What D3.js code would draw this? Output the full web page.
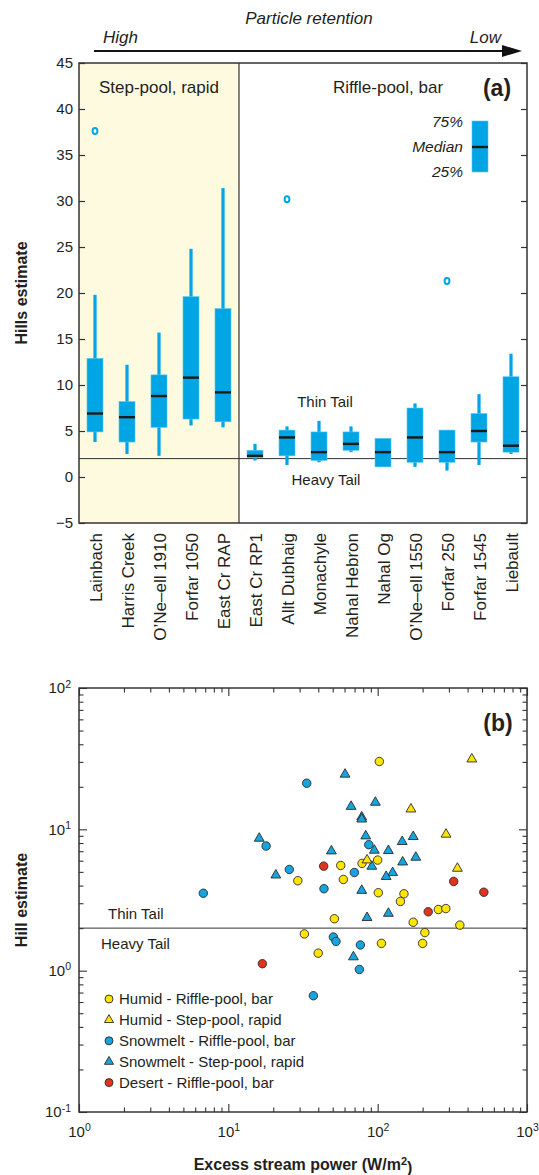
<!DOCTYPE html>
<html>
<head>
<meta charset="utf-8">
<script src="https://cdn.jsdelivr.net/npm/d3@7"></script>
<style>
  body { margin: 0; background: #fff; }
  svg { display: block; font-family: "Liberation Sans", Arial, sans-serif; }
</style>
</head>
<body>
<svg id="chart" width="539" height="1175"></svg>
<script>
// panel (a): Hill estimates per reach (box plot)
const sites = ["Lainbach", "Harris Creek", "O\u2019Ne\u2013ell 1910", "Forfar 1050", "East Cr RAP",
  "East Cr RP1", "Allt Dubhaig", "Monachyle", "Nahal Hebron", "Nahal Og",
  "O\u2019Ne\u2013ell 1550", "Forfar 250", "Forfar 1545", "Liebault"];
const whiskerLow  = [3.8, 2.5, 2.3, 5.6, 5.4, 1.8, 1.3, 1.6, 2.7, null, 1.1, 0.7, 1.3, 2.5];
const q1          = [4.9, 3.8, 5.4, 6.3, 6.0, 2.1, 2.3, 1.8, 2.9, 1.1, 1.6, 1.6, 3.8, 2.7];
const medians     = [6.9, 6.5, 8.8, 10.8, 9.2, 2.3, 4.3, 2.7, 3.6, 2.7, 4.3, 2.7, 5.0, 3.4];
const q3          = [12.9, 8.2, 11.1, 19.6, 18.3, 2.9, 5.1, 4.9, 4.9, 4.2, 7.5, 5.1, 6.9, 10.9];
const whiskerHigh = [19.8, 12.2, 15.7, 24.8, 31.4, 3.6, 5.5, 6.1, 5.5, null, 8.0, 5.1, 9.0, 13.4];
const outlierSites  = ["Lainbach", "Allt Dubhaig", "Forfar 250"];
const outlierValues = [37.6, 30.2, 21.3];
const yTicksA = [-5, 0, 5, 10, 15, 20, 25, 30, 35, 40, 45];

// panel (b): Hill estimate vs excess stream power
const humidRiffleX = [102.6, 56.6, 78.6, 100, 58.9, 29.2, 101, 150, 142, 255, 286, 51.3, 173, 355, 32.3, 207, 106, 200, 40];
const humidRiffleY = [30.2, 5.55, 5.74, 6.06, 4.42, 4.33, 3.56, 3.50, 3.09, 2.71, 2.75, 2.33, 2.2, 2.1, 1.82, 1.86, 1.56, 1.56, 1.33];
const humidStepX = [427, 167, 287, 342, 84.9];
const humidStepY = [31.4, 13.9, 9.22, 5.29, 6.06];
const snowRiffleX = [33.5, 17.9, 25.6, 6.8, 43.7, 69.8, 87.2, 50.5, 52.6, 76.6, 75.4, 37.1];
const snowRiffleY = [21.2, 7.62, 5.2, 3.53, 3.8, 4.95, 7.79, 1.73, 1.61, 1.52, 1.02, 0.665];
const snowStepX = [60.5, 66.4, 96.5, 78.2, 78.2, 16.1, 83.2, 146, 173, 49, 95, 118, 180, 147, 91.4, 20.8, 126, 114, 78.2, 84.9, 118, 68.8];
const snowStepY = [24.5, 14.5, 15.5, 12.2, 11.8, 8.63, 8.96, 8.18, 8.87, 7.02, 7.1, 7.06, 6.33, 5.86, 5.47, 4.74, 4.93, 4.63, 3.69, 2.37, 2.54, 1.25];
const desertX = [43.5, 323, 514, 218, 16.9];
const desertY = [5.49, 4.28, 3.59, 2.61, 1.12];
const xTicksB = [1, 10, 100, 1000];
const yTicksB = [0.1, 1, 10, 100];

const BLUE = "#00a5e6";
const TXT = "#231f20";
const FRAME = "#333";

const svg = d3.select("#chart");

// ---------- header arrow ----------
svg.append("text").attr("x", 309).attr("y", 24).attr("text-anchor", "middle")
  .attr("font-size", 17).attr("font-style", "italic").attr("fill", TXT).text("Particle retention");
svg.append("text").attr("x", 103).attr("y", 43)
  .attr("font-size", 17).attr("font-style", "italic").attr("fill", TXT).text("High");
svg.append("text").attr("x", 501).attr("y", 43).attr("text-anchor", "end")
  .attr("font-size", 17).attr("font-style", "italic").attr("fill", TXT).text("Low");
svg.append("line").attr("x1", 94).attr("x2", 506).attr("y1", 51).attr("y2", 51)
  .attr("stroke", "#111").attr("stroke-width", 2);
svg.append("path").attr("d", "M502,45 L522,51 L502,57 Z").attr("fill", "#111");

// ---------- panel (a) ----------
const xA = d3.scaleBand().domain(sites).range([79, 527]);
const yA = d3.scaleLinear().domain([-5, 45]).range([523, 63]);
const boxW = 16;

svg.append("rect")
  .attr("x", xA.range()[0]).attr("y", yA(45))
  .attr("width", xA("East Cr RP1") - xA.range()[0]).attr("height", yA(-5) - yA(45))
  .attr("fill", "#fdfae0");

svg.append("line").attr("x1", xA("East Cr RP1")).attr("x2", xA("East Cr RP1"))
  .attr("y1", yA(45)).attr("y2", yA(-5)).attr("stroke", FRAME).attr("stroke-width", 1.2);

svg.append("line").attr("x1", 79).attr("x2", 527).attr("y1", yA(2)).attr("y2", yA(2))
  .attr("stroke", FRAME).attr("stroke-width", 1);

const boxes = svg.append("g").selectAll("g").data(sites).join("g")
  .attr("transform", d => `translate(${xA(d) + xA.bandwidth() / 2},0)`);

boxes.filter((d, i) => whiskerLow[i] != null).append("line")
  .attr("y1", d => yA(whiskerLow[sites.indexOf(d)]))
  .attr("y2", d => yA(whiskerHigh[sites.indexOf(d)]))
  .attr("stroke", BLUE).attr("stroke-width", 3.2);

boxes.append("rect")
  .attr("x", -boxW / 2).attr("width", boxW)
  .attr("y", (d, i) => yA(q3[i]))
  .attr("height", (d, i) => yA(q1[i]) - yA(q3[i]))
  .attr("fill", BLUE).attr("stroke", "#5cc6ee").attr("stroke-width", 0.6);

boxes.append("line")
  .attr("x1", -boxW / 2).attr("x2", boxW / 2)
  .attr("y1", (d, i) => yA(medians[i])).attr("y2", (d, i) => yA(medians[i]))
  .attr("stroke", "#1a1a1a").attr("stroke-width", 2.4);

svg.append("g").selectAll("ellipse").data(outlierSites).join("ellipse")
  .attr("cx", d => xA(d) + xA.bandwidth() / 2)
  .attr("cy", (d, i) => yA(outlierValues[i]))
  .attr("rx", 2.4).attr("ry", 3)
  .attr("fill", "#fff").attr("stroke", BLUE).attr("stroke-width", 2);

// legend box (a)
svg.append("rect").attr("x", 472).attr("y", 121).attr("width", 16).attr("height", 51)
  .attr("fill", BLUE).attr("stroke", "#5cc6ee").attr("stroke-width", 0.6);
svg.append("line").attr("x1", 472).attr("x2", 488).attr("y1", 147).attr("y2", 147)
  .attr("stroke", "#1a1a1a").attr("stroke-width", 2.4);
[["75%", 127], ["Median", 152], ["25%", 177]].forEach(([t, y]) => {
  svg.append("text").attr("x", 463).attr("y", y).attr("text-anchor", "end")
    .attr("font-size", 15.5).attr("font-style", "italic").attr("fill", TXT).text(t);
});

// axes (a)
const axLeftA = svg.append("g").attr("transform", "translate(79,0)")
  .call(d3.axisLeft(yA).tickValues(yTicksA).tickSize(-6).tickPadding(6));
axLeftA.select(".domain").remove();
axLeftA.selectAll("text").attr("font-size", 15).attr("fill", TXT).attr("font-family", null);
axLeftA.selectAll("line").attr("stroke", FRAME).attr("stroke-width", 1.2);

const axRightA = svg.append("g").attr("transform", "translate(527,0)")
  .call(d3.axisRight(yA).tickValues(yTicksA).tickSize(-6).tickFormat(""));
axRightA.select(".domain").remove();
axRightA.selectAll("line").attr("stroke", FRAME).attr("stroke-width", 1.2);

svg.append("rect").attr("x", 79).attr("y", yA(45)).attr("width", 448).attr("height", yA(-5) - yA(45))
  .attr("fill", "none").attr("stroke", FRAME).attr("stroke-width", 1.5);

svg.append("g").selectAll("text").data(sites).join("text")
  .attr("transform", d => `translate(${xA(d) + xA.bandwidth() / 2 + 1},533) rotate(-90)`)
  .attr("text-anchor", "end").attr("dy", "0.35em")
  .attr("font-size", 17).attr("fill", TXT).text(d => d);

svg.append("text").attr("x", 159).attr("y", 93).attr("text-anchor", "middle")
  .attr("font-size", 17).attr("fill", TXT).text("Step-pool, rapid");
svg.append("text").attr("x", 388).attr("y", 93).attr("text-anchor", "middle")
  .attr("font-size", 17).attr("fill", TXT).text("Riffle-pool, bar");
svg.append("text").attr("x", 497).attr("y", 96).attr("text-anchor", "middle")
  .attr("font-size", 23).attr("font-weight", "bold").attr("fill", TXT).text("(a)");
svg.append("text").attr("x", 325).attr("y", 407).attr("text-anchor", "middle")
  .attr("font-size", 15).attr("fill", TXT).text("Thin Tail");
svg.append("text").attr("x", 326).attr("y", 485).attr("text-anchor", "middle")
  .attr("font-size", 15).attr("fill", TXT).text("Heavy Tail");

svg.append("text").attr("transform", "translate(27,293) rotate(-90)").attr("text-anchor", "middle")
  .attr("font-size", 16).attr("font-weight", "bold").attr("fill", TXT).text("Hills estimate");

// ---------- panel (b) ----------
const xB = d3.scaleLog().domain([1, 1000]).range([79, 527]);
const yB = d3.scaleLog().domain([0.1, 100]).range([1112, 688]);

function minorTicks(lo, hi) {
  const out = [];
  for (let e = Math.log10(lo); e < Math.log10(hi); e++) {
    for (let m = 2; m <= 9; m++) out.push(m * Math.pow(10, e));
  }
  return out;
}

function supLabels(g) {
  g.selectAll(".tick text").each(function(d) {
    const t = d3.select(this);
    t.text("10").attr("font-size", 15).attr("fill", TXT);
    t.append("tspan").attr("dy", "-0.55em").attr("font-size", 10.5).text(Math.round(Math.log10(d)));
  });
}

function styleAxis(g) {
  g.select(".domain").remove();
  g.selectAll("line").attr("stroke", FRAME).attr("stroke-width", 1.1);
}

const axBottomB = svg.append("g").attr("transform", "translate(0,1112)")
  .call(d3.axisBottom(xB).tickValues(xTicksB).tickSize(-8).tickPadding(14));
styleAxis(axBottomB);
axBottomB.selectAll("text").attr("font-family", null);
supLabels(axBottomB);
styleAxis(svg.append("g").attr("transform", "translate(0,1112)")
  .call(d3.axisBottom(xB).tickValues(minorTicks(1, 1000)).tickSize(-4.5).tickFormat("")));
styleAxis(svg.append("g").attr("transform", "translate(0,688)")
  .call(d3.axisTop(xB).tickValues(xTicksB).tickSize(-8).tickFormat("")));
styleAxis(svg.append("g").attr("transform", "translate(0,688)")
  .call(d3.axisTop(xB).tickValues(minorTicks(1, 1000)).tickSize(-4.5).tickFormat("")));

const axLeftB = svg.append("g").attr("transform", "translate(79,0)")
  .call(d3.axisLeft(yB).tickValues(yTicksB).tickSize(-8).tickPadding(8));
styleAxis(axLeftB);
axLeftB.selectAll("text").attr("font-family", null);
supLabels(axLeftB);
styleAxis(svg.append("g").attr("transform", "translate(79,0)")
  .call(d3.axisLeft(yB).tickValues(minorTicks(0.1, 100)).tickSize(-4.5).tickFormat("")));
styleAxis(svg.append("g").attr("transform", "translate(527,0)")
  .call(d3.axisRight(yB).tickValues(yTicksB).tickSize(-8).tickFormat("")));
styleAxis(svg.append("g").attr("transform", "translate(527,0)")
  .call(d3.axisRight(yB).tickValues(minorTicks(0.1, 100)).tickSize(-4.5).tickFormat("")));

svg.append("line").attr("x1", 79).attr("x2", 527).attr("y1", yB(2)).attr("y2", yB(2))
  .attr("stroke", FRAME).attr("stroke-width", 1);
svg.append("text").attr("x", 108).attr("y", 919).attr("font-size", 15).attr("fill", TXT).text("Thin Tail");
svg.append("text").attr("x", 101).attr("y", 949).attr("font-size", 15).attr("fill", TXT).text("Heavy Tail");

svg.append("rect").attr("x", 79).attr("y", 688).attr("width", 448).attr("height", 424)
  .attr("fill", "none").attr("stroke", FRAME).attr("stroke-width", 1.5);

const groups = [
  { name: "Humid - Riffle-pool, bar", xs: humidRiffleX, ys: humidRiffleY, color: "#ffe500", shape: d3.symbolCircle },
  { name: "Humid - Step-pool, rapid", xs: humidStepX, ys: humidStepY, color: "#ffe500", shape: d3.symbolTriangle },
  { name: "Snowmelt - Riffle-pool, bar", xs: snowRiffleX, ys: snowRiffleY, color: "#16a4de", shape: d3.symbolCircle },
  { name: "Snowmelt - Step-pool, rapid", xs: snowStepX, ys: snowStepY, color: "#16a4de", shape: d3.symbolTriangle },
  { name: "Desert - Riffle-pool, bar", xs: desertX, ys: desertY, color: "#e2331b", shape: d3.symbolCircle }
];
const symSize = s => s === d3.symbolCircle ? 56 : 42;

// snowmelt first, humid and desert on top
[2, 3, 0, 1, 4].forEach(gi => {
  const grp = groups[gi];
  svg.append("g").selectAll("path").data(grp.xs).join("path")
    .attr("transform", (d, i) => `translate(${xB(d)},${yB(grp.ys[i])})`)
    .attr("d", d3.symbol().type(grp.shape).size(symSize(grp.shape)))
    .attr("fill", grp.color).attr("stroke", "#2a2a2a").attr("stroke-width", 0.9);
});

// legend (b)
const legB = svg.append("g").selectAll("g").data(groups).join("g")
  .attr("transform", (d, i) => `translate(109,${999 + i * 20.9})`);
legB.append("path")
  .attr("d", d => d3.symbol().type(d.shape).size(d.shape === d3.symbolCircle ? 50 : 36)())
  .attr("fill", d => d.color).attr("stroke", "#2a2a2a").attr("stroke-width", 0.9);
legB.append("text").attr("x", 10).attr("dy", "0.35em")
  .attr("font-size", 15).attr("fill", TXT).text(d => d.name);

svg.append("text").attr("x", 498).attr("y", 731).attr("text-anchor", "middle")
  .attr("font-size", 23).attr("font-weight", "bold").attr("fill", TXT).text("(b)");

svg.append("text").attr("transform", "translate(27,900) rotate(-90)").attr("text-anchor", "middle")
  .attr("font-size", 16).attr("font-weight", "bold").attr("fill", TXT).text("Hill estimate");

const xlab = svg.append("text").attr("x", 303).attr("y", 1170).attr("text-anchor", "middle")
  .attr("font-size", 16).attr("font-weight", "bold").attr("fill", TXT);
xlab.append("tspan").text("Excess stream power (W/m");
xlab.append("tspan").attr("dy", "-0.5em").attr("font-size", 11).text("2");
xlab.append("tspan").attr("dy", "0.5em").text(")");
</script>
</body>
</html>
